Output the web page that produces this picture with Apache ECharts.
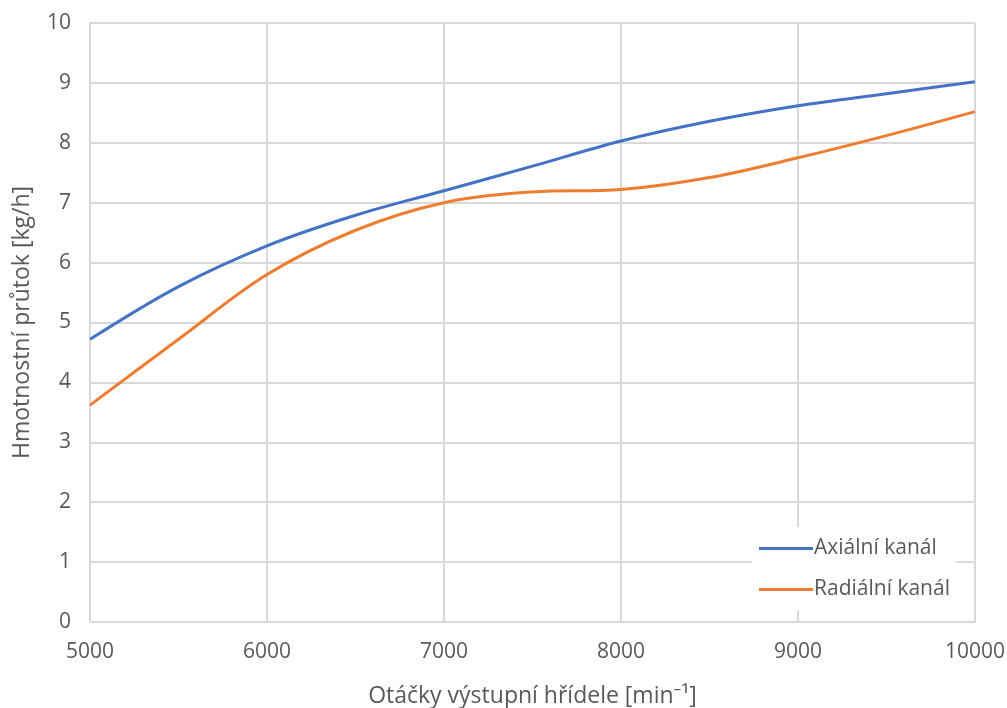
<!DOCTYPE html>
<html><head><meta charset="utf-8">
<script src="https://cdn.jsdelivr.net/npm/echarts@6/dist/echarts.min.js"></script>
<style>html,body{margin:0;padding:0;background:#fff}#c{width:1007px;height:708px}</style>
</head><body><div id="c"></div>
<script>
const rpm = [5000, 5500, 6000, 6500, 7000, 7500, 8000, 8500, 9000, 9500, 10000];
const axial = [4.72, 5.60, 6.28, 6.79, 7.20, 7.61, 8.03, 8.36, 8.62, 8.82, 9.02];
const radial = [3.62, 4.72, 5.80, 6.54, 7.00, 7.18, 7.22, 7.42, 7.75, 8.12, 8.52];
const seriesNames = ['Axiální kanál', 'Radiální kanál'];
const xTitle = 'Otáčky výstupní hřídele [min⁻¹]';
const yTitle = 'Hmotnostní průtok [kg/h]';

const font = '"Open Sans", "Noto Sans", sans-serif';
const chart = echarts.init(document.getElementById('c'));
chart.setOption({
  animation: false,
  grid: {left: 90, right: 32, top: 23, bottom: 86, containLabel: false, outerBoundsMode: 'none'},
  xAxis: {
    type: 'value', min: 5000, max: 10000, interval: 1000,
    name: xTitle, nameLocation: 'middle', nameGap: 63,
    nameTextStyle: {color: '#595959', fontSize: 23, fontFamily: font},
    axisLine: {show: true, lineStyle: {color: '#d9d9d9', width: 2}},
    axisTick: {show: false},
    axisLabel: {color: '#595959', fontSize: 21, fontFamily: font, margin: 20,
      formatter: v => String(v)},
    splitLine: {show: true, lineStyle: {color: '#d9d9d9', width: 2}}
  },
  yAxis: {
    type: 'value', min: 0, max: 10, interval: 1,
    name: yTitle, nameLocation: 'middle', nameGap: 56, nameRotate: 90,
    nameTextStyle: {color: '#595959', fontSize: 23, fontFamily: font},
    axisLine: {show: true, lineStyle: {color: '#d9d9d9', width: 2}},
    axisTick: {show: false},
    axisLabel: {color: '#595959', fontSize: 21, fontFamily: font, margin: 19},
    splitLine: {show: true, lineStyle: {color: '#d9d9d9', width: 2}}
  },
  legend: {
    orient: 'vertical', left: 752, top: 527,
    backgroundColor: '#fff', padding: [11, 6, 10, 7], itemGap: 20,
    itemWidth: 54, itemHeight: 3,
    textStyle: {color: '#595959', fontSize: 21, fontFamily: font, padding: [0, 0, 0, -4]},
    icon: 'rect',
    data: seriesNames
  },
  series: [
    {name: seriesNames[0], type: 'line', smooth: 0.35, symbol: 'none',
     data: rpm.map((x, i) => [x, axial[i]]),
     itemStyle: {color: '#4472c4'}, lineStyle: {color: '#4472c4', width: 3}},
    {name: seriesNames[1], type: 'line', smooth: 0.35, symbol: 'none',
     data: rpm.map((x, i) => [x, radial[i]]),
     itemStyle: {color: '#ed7d31'}, lineStyle: {color: '#ed7d31', width: 3}}
  ]
});
</script></body></html>
